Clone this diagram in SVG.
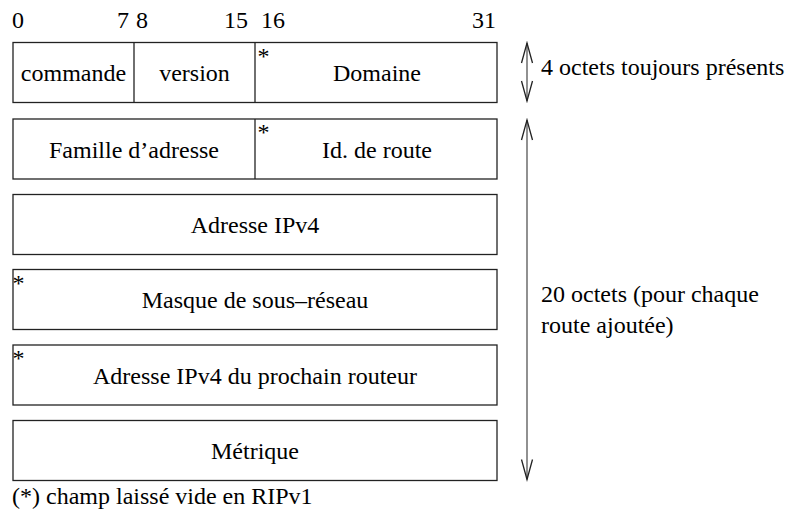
<svg xmlns="http://www.w3.org/2000/svg" width="800" height="517" viewBox="0 0 800 517">
<defs>
<marker id="ah" markerUnits="userSpaceOnUse" markerWidth="24" markerHeight="14" viewBox="-22 -7 24 14" refX="0" refY="0" orient="auto-start-reverse">
<path d="M-20,-5.5 L0,0 L-20,5.5" fill="none" stroke="#222" stroke-width="1.3"/>
</marker>
</defs>
<rect width="800" height="517" fill="#fff"/>
<g id="bit-labels">
<text x="12" y="28" font-family="Liberation Serif" font-size="24">0</text>
<text x="129" y="28" font-family="Liberation Serif" font-size="24" text-anchor="end">7</text>
<text x="136" y="28" font-family="Liberation Serif" font-size="24">8</text>
<text x="248" y="28" font-family="Liberation Serif" font-size="24" text-anchor="end">15</text>
<text x="261" y="28" font-family="Liberation Serif" font-size="24">16</text>
<text x="496" y="28" font-family="Liberation Serif" font-size="24" text-anchor="end">31</text>
</g>
<g id="row1" fill="none" stroke="#222" stroke-width="1.3">
<rect x="13" y="42.5" width="484" height="60"/>
<line x1="134" y1="42.5" x2="134" y2="102.5"/>
<line x1="255" y1="42.5" x2="255" y2="102.5"/>
<text x="73.5" y="81" font-family="Liberation Serif" font-size="24" text-anchor="middle" fill="#000" stroke="none">commande</text>
<text x="194.5" y="81" font-family="Liberation Serif" font-size="24" text-anchor="middle" fill="#000" stroke="none">version</text>
<text x="257.5" y="63.5" font-family="Liberation Serif" font-size="24" fill="#000" stroke="none">*</text>
<text x="377" y="81" font-family="Liberation Serif" font-size="24" text-anchor="middle" fill="#000" stroke="none">Domaine</text>
</g>
<g id="row2" fill="none" stroke="#222" stroke-width="1.3">
<rect x="13" y="119" width="484" height="60"/>
<line x1="255" y1="119" x2="255" y2="179"/>
<text x="134" y="157.5" font-family="Liberation Serif" font-size="24" text-anchor="middle" fill="#000" stroke="none">Famille d&#8217;adresse</text>
<text x="257.5" y="140" font-family="Liberation Serif" font-size="24" fill="#000" stroke="none">*</text>
<text x="377" y="157.5" font-family="Liberation Serif" font-size="24" text-anchor="middle" fill="#000" stroke="none">Id. de route</text>
</g>
<g id="row3" fill="none" stroke="#222" stroke-width="1.3">
<rect x="13" y="194.5" width="484" height="60"/>
<text x="255" y="233" font-family="Liberation Serif" font-size="24" text-anchor="middle" fill="#000" stroke="none">Adresse IPv4</text>
</g>
<g id="row4" fill="none" stroke="#222" stroke-width="1.3">
<rect x="13" y="269.5" width="484" height="60"/>
<text x="12.5" y="290.5" font-family="Liberation Serif" font-size="24" fill="#000" stroke="none">*</text>
<text x="255" y="308" font-family="Liberation Serif" font-size="24" text-anchor="middle" fill="#000" stroke="none">Masque de sous&#8211;r&#233;seau</text>
</g>
<g id="row5" fill="none" stroke="#222" stroke-width="1.3">
<rect x="13" y="345" width="484" height="60"/>
<text x="12.5" y="366" font-family="Liberation Serif" font-size="24" fill="#000" stroke="none">*</text>
<text x="255" y="383.5" font-family="Liberation Serif" font-size="24" text-anchor="middle" fill="#000" stroke="none">Adresse IPv4 du prochain routeur</text>
</g>
<g id="row6" fill="none" stroke="#222" stroke-width="1.3">
<rect x="13" y="420.5" width="484" height="60"/>
<text x="255" y="459" font-family="Liberation Serif" font-size="24" text-anchor="middle" fill="#000" stroke="none">M&#233;trique</text>
</g>
<g id="connectors" fill="none" stroke="#555" stroke-width="1.3">
<line x1="527" y1="43" x2="527" y2="101" marker-start="url(#ah)" marker-end="url(#ah)"/>
<line x1="527" y1="120" x2="527" y2="479.5" marker-start="url(#ah)" marker-end="url(#ah)"/>
</g>
<g id="labels">
<text x="541" y="75" font-family="Liberation Serif" font-size="24">4 octets toujours pr&#233;sents</text>
<text x="541" y="302" font-family="Liberation Serif" font-size="24">20 octets (pour chaque</text>
<text x="541" y="333" font-family="Liberation Serif" font-size="24">route ajout&#233;e)</text>
<text x="12" y="504" font-family="Liberation Serif" font-size="24">(*) champ laiss&#233; vide en RIPv1</text>
</g>
</svg>
